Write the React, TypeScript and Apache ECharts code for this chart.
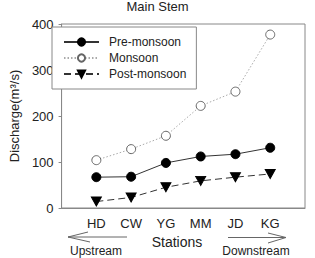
import React, { useEffect, useRef } from "react";
import * as echarts from "echarts";

const stations = ["HD", "CW", "YG", "MM", "JD", "KG"];
const preMonsoon = [67, 68, 98, 112, 117, 131];
const monsoon = [104, 128, 157, 222, 253, 377];
const postMonsoon = [14, 23, 45, 59, 67, 74];
const yTicks = { min: 0, max: 400, interval: 100 };

const FONT = "Liberation Sans, Arial, sans-serif";
const TEXT = "#222";

const toPoints = (vals: number[]) => vals.map((v, i) => [i + 1, v]);

export default function App() {
  const ref = useRef<HTMLDivElement>(null);

  useEffect(() => {
    if (!ref.current) return;
    const chart = echarts.init(ref.current, undefined, { renderer: "svg" });
    chart.setOption({
      animation: false,
      backgroundColor: "#fff",
      title: {
        text: "Main Stem",
        left: "center",
        top: -5,
        textStyle: { fontFamily: FONT, fontSize: 13, fontWeight: "normal", color: TEXT },
      },
      grid: {
        left: 52,
        right: 10,
        top: 24,
        bottom: 50,
        show: true,
        borderColor: "#888",
        borderWidth: 1,
      },
      legend: {
        orient: "vertical",
        left: 52,
        top: 27,
        padding: [8, 10, 8, 11],
        borderColor: "#888",
        borderWidth: 1,
        backgroundColor: "#fff",
        itemWidth: 35,
        itemHeight: 9,
        itemGap: 2,
        textStyle: {
          fontFamily: FONT,
          fontSize: 12,
          color: TEXT,
          lineHeight: 14,
          height: 14,
          padding: [0, 0, 0, 5],
        },
        data: ["Pre-monsoon", "Monsoon", "Post-monsoon"],
      },
      xAxis: {
        type: "value",
        min: 0,
        max: 7,
        interval: 1,
        axisLine: { show: true, lineStyle: { color: "#888" } },
        axisTick: { show: false },
        splitLine: { show: false },
        axisLabel: {
          margin: 9,
          fontFamily: FONT,
          fontSize: 13,
          color: TEXT,
          formatter: (v: number) => stations[v - 1] ?? "",
        },
      },
      yAxis: {
        type: "value",
        ...yTicks,
        name: "Discharge(m³/s)",
        nameLocation: "middle",
        nameGap: 33,
        nameTextStyle: { fontFamily: FONT, fontSize: 13, color: TEXT },
        axisLine: { show: true, lineStyle: { color: "#888" } },
        axisTick: { show: true, inside: false, length: 3, lineStyle: { color: "#888" } },
        splitLine: { show: false },
        axisLabel: { margin: 8, fontFamily: FONT, fontSize: 13, color: TEXT },
      },
      series: [
        {
          name: "Pre-monsoon",
          type: "line",
          data: toPoints(preMonsoon),
          symbol: "circle",
          symbolSize: 9,
          lineStyle: { color: "#333", width: 1 },
          itemStyle: { color: "#000", borderColor: "#000", borderWidth: 1 },
          z: 4,
        },
        {
          name: "Monsoon",
          type: "line",
          data: toPoints(monsoon),
          symbol: "circle",
          symbolSize: 9,
          lineStyle: { color: "#aaa", width: 1, type: [1.5, 2] },
          itemStyle: { color: "#fff", borderColor: "#666", borderWidth: 1 },
          z: 3,
        },
        {
          name: "Post-monsoon",
          type: "line",
          data: toPoints(postMonsoon),
          symbol: "triangle",
          symbolRotate: 180,
          symbolSize: [10, 9],
          lineStyle: { color: "#333", width: 1, type: [7, 4] },
          itemStyle: { color: "#000", borderColor: "#000", borderWidth: 1 },
          z: 4,
        },
      ],
      graphic: [
        {
          type: "text",
          x: 177,
          y: 242,
          style: {
            text: "Stations",
            fontFamily: FONT,
            fontSize: 14,
            fill: TEXT,
            align: "center",
            verticalAlign: "middle",
          },
        },
        {
          type: "text",
          x: 96,
          y: 251,
          style: {
            text: "Upstream",
            fontFamily: FONT,
            fontSize: 12,
            fill: TEXT,
            align: "center",
            verticalAlign: "middle",
          },
        },
        {
          type: "text",
          x: 256,
          y: 251,
          style: {
            text: "Downstream",
            fontFamily: FONT,
            fontSize: 12,
            fill: TEXT,
            align: "center",
            verticalAlign: "middle",
          },
        },
        {
          type: "line",
          shape: { x1: 68, y1: 237, x2: 127, y2: 237 },
          style: { stroke: "#666", lineWidth: 1 },
        },
        {
          type: "polyline",
          shape: { points: [[88, 232], [68, 237], [90, 242]] },
          style: { stroke: "#666", lineWidth: 1, fill: "none" },
        },
        {
          type: "line",
          shape: { x1: 228, y1: 237.5, x2: 286, y2: 237.5 },
          style: { stroke: "#666", lineWidth: 1 },
        },
        {
          type: "polyline",
          shape: { points: [[268, 233], [286, 237.5], [268, 243]] },
          style: { stroke: "#666", lineWidth: 1, fill: "none" },
        },
      ],
    });
    return () => chart.dispose();
  }, []);

  return (
    <div
      ref={ref}
      style={{ position: "fixed", left: 0, top: 0, width: 315, height: 258 }}
    />
  );
}
